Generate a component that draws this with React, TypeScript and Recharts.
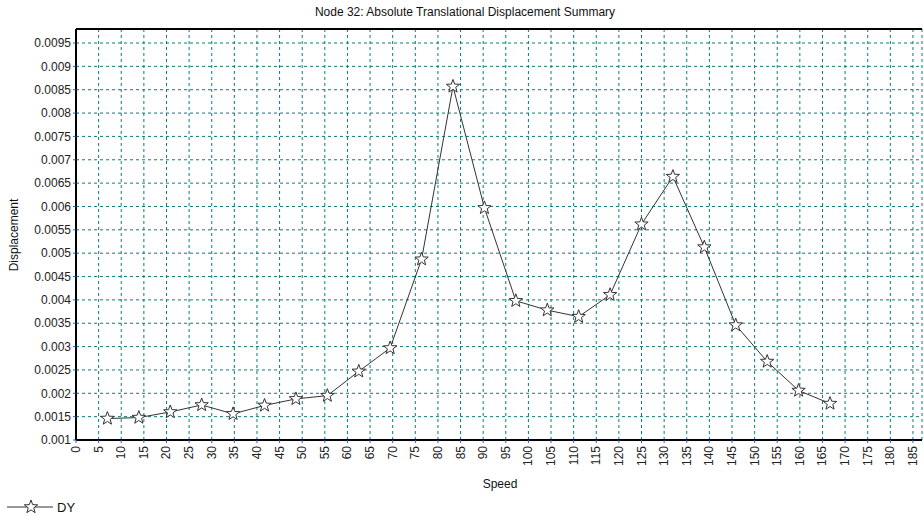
import React from "react";
import { LineChart, Line, XAxis, YAxis, CartesianGrid, ReferenceLine, Label } from "recharts";

// speed (x) and DY displacement
const speeds = [6.94, 13.89, 20.83, 27.78, 34.72, 41.67, 48.61, 55.56, 62.5, 69.44, 76.39, 83.33, 90.28, 97.22, 104.17, 111.11, 118.06, 125, 131.94, 138.89, 145.83, 152.78, 159.72, 166.67];
const dy = [0.00146, 0.00148, 0.0016, 0.00175, 0.00156, 0.00174, 0.00188, 0.00195, 0.00247, 0.00297, 0.00487, 0.00857, 0.00597, 0.00398, 0.00378, 0.00364, 0.00411, 0.00562, 0.00664, 0.00513, 0.00346, 0.00268, 0.00206, 0.00178];

const xTicks = [0, 5, 10, 15, 20, 25, 30, 35, 40, 45, 50, 55, 60, 65, 70, 75, 80, 85, 90, 95, 100, 105, 110, 115, 120, 125, 130, 135, 140, 145, 150, 155, 160, 165, 170, 175, 180, 185];
const yTicks = [0.001, 0.0015, 0.002, 0.0025, 0.003, 0.0035, 0.004, 0.0045, 0.005, 0.0055, 0.006, 0.0065, 0.007, 0.0075, 0.008, 0.0085, 0.009, 0.0095];

const FONT = "'Liberation Sans', Arial, sans-serif";
const GRID = "#008080";

const data = speeds.map((s, i) => ({ speed: s, DY: dy[i] }));

function starPath(cx: number, cy: number, R: number, r: number) {
  let d = "";
  for (let i = 0; i < 10; i++) {
    const a = ((-90 + i * 36) * Math.PI) / 180;
    const rad = i % 2 === 0 ? R : r;
    d += (i === 0 ? "M" : "L") + (cx + rad * Math.cos(a)).toFixed(2) + "," + (cy + rad * Math.sin(a)).toFixed(2);
  }
  return d + "Z";
}

const StarDot = (props: any) => {
  const { cx, cy, index } = props;
  if (cx == null || cy == null) return <g key={index} />;
  return <path key={index} d={starPath(cx, cy, 7, 2.9)} fill="#fff" stroke="#333" strokeWidth={1} />;
};

const XTick = (props: any) => {
  const { x, y, payload } = props;
  return (
    <text
      transform={`translate(${x},${y}) rotate(-90)`}
      textAnchor="end"
      dominantBaseline="central"
      fontSize={12}
      fontFamily={FONT}
      fill="#222"
    >
      {payload.value}
    </text>
  );
};

export default function App() {
  return (
    <div style={{ position: "absolute", left: 0, top: 0, width: 924, height: 516, background: "#fff", fontFamily: FONT }}>
      <div style={{ position: "absolute", left: 0, top: 5, width: 930, textAlign: "center", fontSize: 12, color: "#111" }}>
        Node 32: Absolute Translational Displacement Summary
      </div>
      <LineChart width={924} height={516} data={data} margin={{ top: 29, right: 2, left: 0, bottom: 0 }}>
        <CartesianGrid stroke={GRID} strokeDasharray="3 3" />
        <XAxis
          type="number"
          dataKey="speed"
          domain={[0, 187]}
          ticks={xTicks}
          allowDataOverflow
          height={76}
          tickSize={3}
          tickMargin={3}
          tickLine={{ stroke: "#3355cc" }}
          axisLine={{ stroke: "#000", strokeWidth: 2 }}
          tick={<XTick />}
          interval={0}
        >
          <Label
            content={() => (
              <text x={500} y={488} textAnchor="middle" fontSize={12} fontFamily={FONT} fill="#111">
                Speed
              </text>
            )}
          />
        </XAxis>
        <YAxis
          type="number"
          domain={[0.001, 0.0098]}
          ticks={yTicks}
          allowDataOverflow
          width={76}
          tickSize={3}
          tickMargin={2}
          tickLine={{ stroke: "#3355cc" }}
          axisLine={{ stroke: "#000", strokeWidth: 2 }}
          tick={{ fontSize: 12, fontFamily: FONT, fill: "#222" }}
          tickFormatter={(v: number) => String(+v.toFixed(5))}
          interval={0}
        >
          <Label
            content={() => (
              <text
                transform="translate(18,235) rotate(-90)"
                textAnchor="middle"
                fontSize={12}
                fontFamily={FONT}
                fill="#111"
              >
                Displacement
              </text>
            )}
          />
        </YAxis>
        <ReferenceLine y={0.0098} stroke="#000" strokeWidth={2} />
        <Line
          type="linear"
          dataKey="DY"
          stroke="#333"
          strokeWidth={1}
          dot={StarDot}
          activeDot={false}
          isAnimationActive={false}
        />
      </LineChart>
      <div style={{ position: "absolute", left: 5, top: 498, display: "flex", alignItems: "center", fontSize: 13, color: "#111" }}>
        <svg width={50} height={18}>
          <line x1={2} y1={9} x2={48} y2={9} stroke="#333" strokeWidth={1} />
          <path d={starPath(26, 9, 7, 2.9)} fill="#fff" stroke="#333" strokeWidth={1} />
        </svg>
        <span style={{ marginLeft: 2 }}>DY</span>
      </div>
    </div>
  );
}
